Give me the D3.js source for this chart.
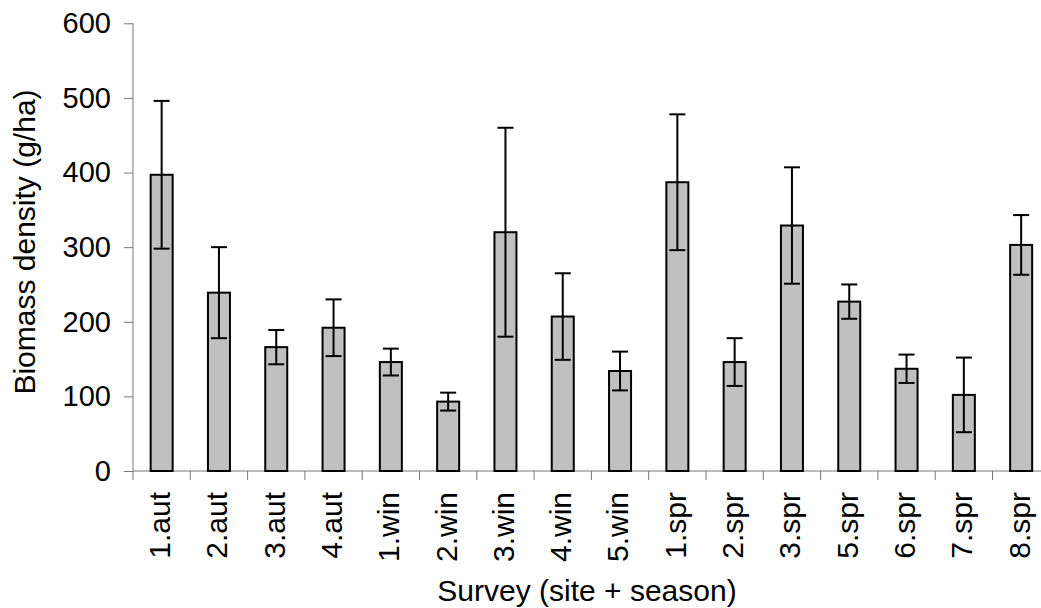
<!DOCTYPE html>
<html>
<head>
<meta charset="utf-8">
<script src="https://cdn.jsdelivr.net/npm/d3@7"></script>
<style>
  body { margin: 0; background: #fff; }
  svg text { font-family: "Liberation Sans", Arial, sans-serif; fill: #000; }
</style>
</head>
<body>
<svg id="chart" width="1041" height="608"></svg>
<script>
const categories = ['1.aut', '2.aut', '3.aut', '4.aut', '1.win', '2.win', '3.win', '4.win',
                    '5.win', '1.spr', '2.spr', '3.spr', '5.spr', '6.spr', '7.spr', '8.spr'];
const means  = [397, 239, 166, 192, 146, 93, 320, 207, 134, 387, 146, 329, 227, 137, 102, 303];
const errors = [99, 61, 23, 38, 18, 12, 140, 58, 26, 91, 32, 78, 23, 19, 50, 40];
const yTicks = [0, 100, 200, 300, 400, 500, 600];

const rows = categories.map((c, i) => ({ cat: c, mean: means[i], err: errors[i] }));

const svg = d3.select('#chart');
const plotL = 133, plotT = 23.3, plotB = 471, plotR = 133 + 16 * 57.3;

const x = d3.scaleBand().domain(categories).range([plotL, plotR]).padding(0);
const y = d3.scaleLinear().domain([0, 600]).range([plotB, plotT]);

const barW = 22;
const capW = 16;
const axisColor = '#777';

// ── Axes ────────────────────────────────────────────────────────────────
const yAxis = svg.append('g').attr('transform', `translate(${plotL},0)`)
  .call(d3.axisLeft(y).tickValues(yTicks).tickSize(9).tickPadding(13).tickFormat(d3.format('d')));
yAxis.select('.domain').attr('stroke', axisColor).attr('d', `M0,${plotB}V${plotT}`);
yAxis.selectAll('.tick line').attr('stroke', axisColor);
yAxis.selectAll('.tick text').attr('font-size', 29).attr('fill', '#000')
  .attr('font-family', '"Liberation Sans", Arial, sans-serif');

const xAxis = svg.append('g').attr('transform', `translate(0,${plotB})`)
  .call(d3.axisBottom(x).tickSize(0).tickFormat(''));
xAxis.select('.domain').attr('stroke', axisColor).attr('d', `M${plotL},0H${plotR}`);

// boundary ticks between categories
svg.append('g').selectAll('line')
  .data(categories.map((c, i) => i))
  .join('line')
  .attr('x1', i => plotL + i * x.step()).attr('x2', i => plotL + i * x.step())
  .attr('y1', plotB).attr('y2', plotB + 9)
  .attr('stroke', axisColor);

// ── Bars ────────────────────────────────────────────────────────────────
const cx = d => x(d.cat) + x.bandwidth() / 2;

svg.append('g').selectAll('rect')
  .data(rows)
  .join('rect')
  .attr('x', d => cx(d) - barW / 2)
  .attr('y', d => y(d.mean))
  .attr('width', barW)
  .attr('height', d => y(0) - y(d.mean))
  .attr('fill', '#c0c0c0')
  .attr('stroke', '#000')
  .attr('stroke-width', 2);

// ── Error bars ──────────────────────────────────────────────────────────
const eb = svg.append('g').attr('stroke', '#000').attr('stroke-width', 2);
eb.selectAll('line.v').data(rows).join('line').attr('class', 'v')
  .attr('x1', cx).attr('x2', cx)
  .attr('y1', d => y(d.mean + d.err)).attr('y2', d => y(d.mean - d.err));
eb.selectAll('line.hi').data(rows).join('line').attr('class', 'hi')
  .attr('x1', d => cx(d) - capW / 2).attr('x2', d => cx(d) + capW / 2)
  .attr('y1', d => y(d.mean + d.err)).attr('y2', d => y(d.mean + d.err));
eb.selectAll('line.lo').data(rows).join('line').attr('class', 'lo')
  .attr('x1', d => cx(d) - capW / 2).attr('x2', d => cx(d) + capW / 2)
  .attr('y1', d => y(d.mean - d.err)).attr('y2', d => y(d.mean - d.err));

// ── Category labels ─────────────────────────────────────────────────────
svg.append('g').selectAll('text')
  .data(categories)
  .join('text')
  .attr('transform', c => `translate(${x(c) + x.bandwidth() / 2},492) rotate(-90)`)
  .attr('text-anchor', 'end')
  .attr('dy', '0.28em')
  .attr('font-size', 30)
  .text(c => c);

// ── Axis titles ─────────────────────────────────────────────────────────
svg.append('text')
  .attr('x', 587).attr('y', 601)
  .attr('text-anchor', 'middle')
  .attr('font-size', 30)
  .text('Survey (site + season)');

svg.append('text')
  .attr('transform', 'translate(35,242) rotate(-90)')
  .attr('text-anchor', 'middle')
  .attr('font-size', 30)
  .text('Biomass density (g/ha)');
</script>
</body>
</html>
